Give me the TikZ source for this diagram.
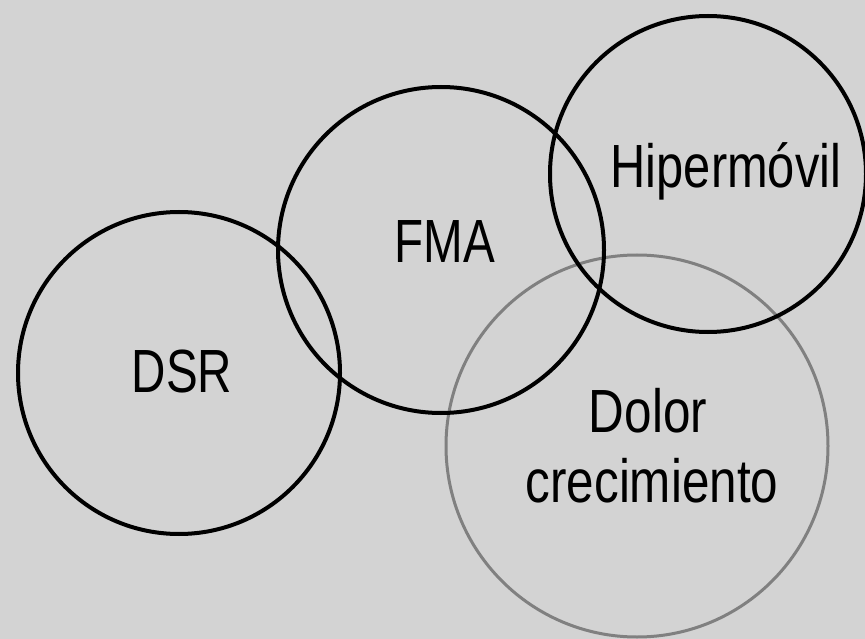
\documentclass[tikz,border=0pt]{standalone}
\usepackage{fontspec}
\setmainfont{Liberation Sans}
\definecolor{bgc}{RGB}{211,211,211}
\definecolor{ringgray}{RGB}{128,128,128}
\begin{document}
\begin{tikzpicture}[x=1pt,y=-1pt,
  ring/.style={circle,draw=black,line width=4pt,inner sep=0pt,fill=none},
  greyring/.style={circle,draw=ringgray,line width=3pt,inner sep=0pt,fill=none},
  lbl/.style={font=\fontsize{61}{70}\selectfont,text=black,inner sep=0pt,align=center}]
\useasboundingbox (0,0) rectangle (865,639);
\fill[bgc] (0,0) rectangle (865,639);
\clip (0,0) rectangle (865,639);
\node[greyring,minimum size=382pt] (dolor) at (637,446) {};
\node[ring,minimum size=322pt] (dsr) at (179,373) {};
\node[ring,minimum size=326pt] (fma) at (441,250) {};
\node[ring,minimum size=316pt] (hiper) at (708,174) {};
\node[lbl,anchor=base] (tdsr) at (182,392) {\scalebox{0.78}[1]{DSR}};
\node[lbl,anchor=base] (tfma) at (445,262) {\scalebox{0.78}[1]{FMA}};
\node[lbl,anchor=base] (thiper) at (726,188) {\scalebox{0.8}[1]{Hipermóvil}};
\node[lbl,anchor=base] (tdolor1) at (648,432) {\scalebox{0.81}[1]{Dolor}};
\node[lbl,anchor=base] (tdolor2) at (652,502) {\scalebox{0.81}[1]{crecimiento}};
\end{tikzpicture}
\end{document}
